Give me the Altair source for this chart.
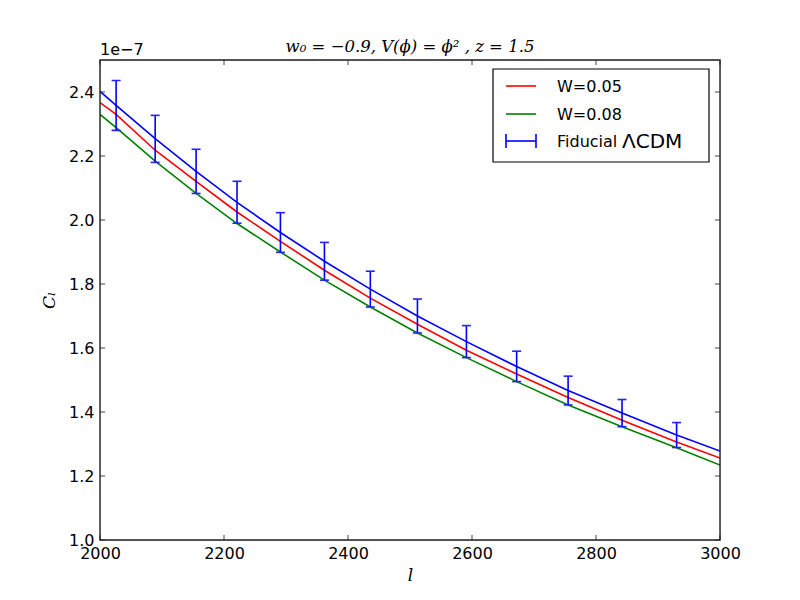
import altair as alt
import pandas as pd

# ---- data (values in units of 1e-7) ----
ell_bars = [2026, 2089, 2155, 2221, 2291, 2362, 2436, 2512, 2591, 2672, 2755, 2842, 2930]
fid_center = [2.358, 2.254, 2.152, 2.055, 1.961, 1.871, 1.784, 1.700, 1.620, 1.542, 1.467, 1.397, 1.328]
fid_hi = [2.436, 2.327, 2.221, 2.121, 2.023, 1.930, 1.840, 1.753, 1.670, 1.590, 1.512, 1.439, 1.367]
fid_lo = [2.280, 2.180, 2.083, 1.990, 1.899, 1.812, 1.728, 1.647, 1.570, 1.495, 1.422, 1.354, 1.289]

ell_line = [2000] + ell_bars + [3000]
fid_line = [2.402] + fid_center + [1.278]
w005_line = [2.367, 2.330, 2.218, 2.121, 2.025, 1.933, 1.843, 1.756, 1.674, 1.593,
             1.519, 1.445, 1.374, 1.306, 1.256]
w008_line = [2.330, 2.289, 2.184, 2.083, 1.989, 1.900, 1.812, 1.728, 1.647, 1.570,
             1.495, 1.422, 1.354, 1.288, 1.234]

x_ticks = [2000, 2200, 2400, 2600, 2800, 3000]
y_ticks = [1.0, 1.2, 1.4, 1.6, 1.8, 2.0, 2.2, 2.4]

legend_labels = ["W=0.05", "W=0.08", "Fiducial"]
legend_colors = ["#ff0000", "#008000", "#0000ff"]
legend_math = "\u039bCDM"

title_text = "w\u2080 = \u22120.9,  V(\u03d5) = \u03d5\u00b2 ,  z = 1.5"

W, H = 620, 480

xs = alt.Scale(domain=[2000, 3000], nice=False, zero=False)
ys = alt.Scale(domain=[1.0, 2.5], nice=False, zero=False)
xaxis = alt.Axis(values=x_ticks, format="d", ticks=False, domain=False, grid=False,
                 labelFlush=False, labelOverlap=False,
                 labelPadding=5, labelFontSize=16, labelFont="DejaVu Sans", labelColor="black",
                 title="l", titleFont="DejaVu Serif", titleFontStyle="italic",
                 titleFontWeight="normal", titleFontSize=17, titlePadding=6, titleColor="black")
yaxis = alt.Axis(values=y_ticks, format=".1f", ticks=False, domain=False, grid=False,
                 labelFlush=False, labelOverlap=False,
                 labelPadding=6, labelFontSize=16, labelFont="DejaVu Sans", labelColor="black",
                 title="C\u2097", titleFont="DejaVu Serif", titleFontStyle="italic",
                 titleFontWeight="normal", titleFontSize=17, titlePadding=10, titleColor="black")

X = alt.X("l:Q", scale=xs, axis=xaxis)
Y = alt.Y("v:Q", scale=ys, axis=yaxis)


def line_layer(vals, color):
    df = pd.DataFrame({"l": ell_line, "v": vals})
    return alt.Chart(df).mark_line(color=color, strokeWidth=1.6, clip=True).encode(x=X, y=Y)


df_err = pd.DataFrame({"l": ell_bars, "v": fid_lo, "v2": fid_hi})
err_rule = alt.Chart(df_err).mark_rule(color="#0000ff", strokeWidth=1.6).encode(
    x=X, y=Y, y2="v2:Q")
cap_lo = alt.Chart(pd.DataFrame({"l": ell_bars, "v": fid_lo})).mark_tick(
    orient="horizontal", color="#2222ff", size=9, thickness=1.6, opacity=1).encode(x=X, y=Y)
cap_hi = alt.Chart(pd.DataFrame({"l": ell_bars, "v": fid_hi})).mark_tick(
    orient="horizontal", color="#2222ff", size=9, thickness=1.6, opacity=1).encode(x=X, y=Y)

# inward ticks on all four sides
tick_col = "#444444"
dfx = pd.DataFrame({"l": x_ticks})
dfy = pd.DataFrame({"v": y_ticks})
xt_bot = alt.Chart(dfx).mark_rule(color=tick_col, strokeWidth=1).encode(
    x=X, y=alt.value(H), y2=alt.value(H - 5))
xt_top = alt.Chart(dfx).mark_rule(color=tick_col, strokeWidth=1).encode(
    x=X, y=alt.value(0), y2=alt.value(5))
yt_left = alt.Chart(dfy).mark_rule(color=tick_col, strokeWidth=1).encode(
    y=Y, x=alt.value(0), x2=alt.value(5))
yt_right = alt.Chart(dfy).mark_rule(color=tick_col, strokeWidth=1).encode(
    y=Y, x=alt.value(W), x2=alt.value(W - 5))

one = pd.DataFrame({"a": [0]})
frame = alt.Chart(one).mark_rect(fill=None, filled=False, stroke="#222222", strokeWidth=1.4).encode(
    x=alt.value(0), x2=alt.value(W), y=alt.value(0), y2=alt.value(H))
offset_text = alt.Chart(one).mark_text(
    text="1e\u22127", align="left", baseline="alphabetic", fontSize=16,
    font="DejaVu Sans", color="black").encode(x=alt.value(0), y=alt.value(-5))
title_mark = alt.Chart(one).mark_text(
    text=title_text, align="center", baseline="alphabetic", fontSize=16.5,
    font="DejaVu Serif", fontStyle="italic", color="black").encode(
    x=alt.value(W / 2), y=alt.value(-8))

# legend
box = alt.Chart(one).mark_rect(fill="white", stroke="black", strokeWidth=1.2).encode(
    x=alt.value(393), x2=alt.value(609), y=alt.value(9), y2=alt.value(102))
legend_layers = [box]
rows_y = [26, 54, 81]
for lab, col, ry in zip(legend_labels, legend_colors, rows_y):
    legend_layers.append(alt.Chart(one).mark_rule(color=col, strokeWidth=1.6).encode(
        x=alt.value(406), x2=alt.value(436), y=alt.value(ry)))
    legend_layers.append(alt.Chart(one).mark_text(
        text=lab, align="left", baseline="middle", fontSize=16, font="DejaVu Sans",
        color="black").encode(x=alt.value(457), y=alt.value(ry + 1)))
legend_layers.append(alt.Chart(one).mark_text(
    text=legend_math, align="left", baseline="middle", fontSize=20, font="DejaVu Sans",
    color="black").encode(x=alt.value(522), y=alt.value(rows_y[2] + 1)))
# error-bar caps for the fiducial legend symbol
for cx in [406, 436]:
    legend_layers.append(alt.Chart(one).mark_rule(color="#0000ff", strokeWidth=1.6).encode(
        x=alt.value(cx), y=alt.value(rows_y[2] - 7), y2=alt.value(rows_y[2] + 7)))

chart = alt.layer(
    xt_bot, xt_top, yt_left, yt_right,
    line_layer(fid_line, "#0000ff"),
    line_layer(w005_line, "#ff0000"),
    line_layer(w008_line, "#008000"),
    err_rule, cap_lo, cap_hi,
    frame, offset_text, title_mark,
    *legend_layers,
).properties(
    width=W, height=H,
    padding={"left": 92, "top": 52, "right": 72, "bottom": 52},
    autosize=alt.AutoSizeParams(type="none"),
).configure_view(stroke=None).configure(background="white")

chart.save("out.html", embed_options={"renderer": "svg", "actions": False})
